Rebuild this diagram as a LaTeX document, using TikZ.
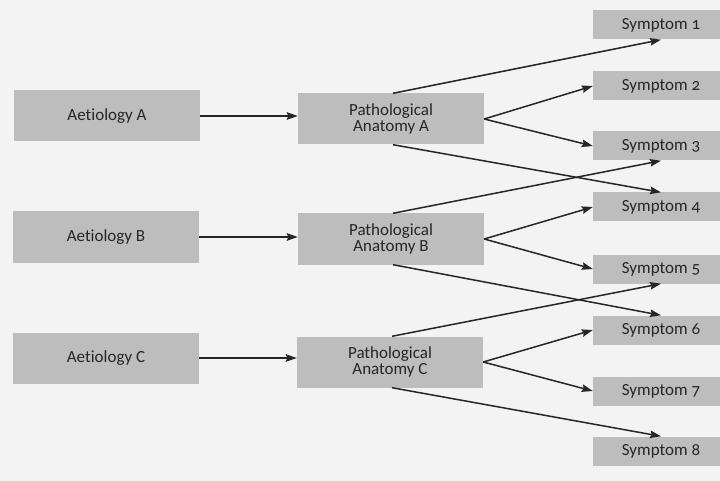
\documentclass[tikz,border=0pt]{standalone}
\usepackage{fontspec}
\setmainfont{Carlito}[Numbers=OldStyle,Ligatures={NoCommon,NoContextual}]
\usetikzlibrary{arrows.meta}
\definecolor{boxgray}{HTML}{BDBDBD}
\definecolor{inkgray}{HTML}{262626}
\definecolor{paper}{HTML}{F3F3F3}
\begin{document}
\begin{tikzpicture}[x=1pt,y=-1pt,
  bigbox/.style={fill=boxgray, draw=none, minimum width=186pt, minimum height=51pt, inner sep=0pt, align=center, text=inkgray, font=\fontsize{17}{15.5}\selectfont},
  symbox/.style={fill=boxgray, draw=none, minimum width=136pt, minimum height=29pt, inner sep=0pt, text=inkgray, font=\fontsize{17}{15.5}\selectfont},
  arr/.style={draw=inkgray, line width=1.5pt, -{Stealth[length=11pt,width=7.5pt,inset=1.5pt]}}]
\fill[paper] (0,0) rectangle (720,481);
\useasboundingbox (0,0) rectangle (720,481);
% aetiologies
\node[bigbox] (aA) at (107,116) {Aetiology A};
\node[bigbox] (aB) at (106,237) {Aetiology B};
\node[bigbox] (aC) at (106,358) {Aetiology C};
% pathological anatomies
\node[bigbox] (pA) at (391,119) {Pathological\\Anatomy A};
\node[bigbox] (pB) at (391,239) {Pathological\\Anatomy B};
\node[bigbox] (pC) at (390,362) {Pathological\\Anatomy C};
% symptoms
\node[symbox] (s1) at (661,25) {Symptom 1};
\node[symbox] (s2) at (661,86) {Symptom 2};
\node[symbox] (s3) at (661,146) {Symptom 3};
\node[symbox] (s4) at (661,207) {Symptom 4};
\node[symbox] (s5) at (661,269) {Symptom 5};
\node[symbox] (s6) at (661,330) {Symptom 6};
\node[symbox] (s7) at (661,391) {Symptom 7};
\node[symbox] (s8) at (661,451) {Symptom 8};
% aetiology -> anatomy
\draw[arr] (aA.east) -- (aA.east -| pA.west);
\draw[arr] (aB.east) -- (aB.east -| pB.west);
\draw[arr] (aC.east) -- (aC.east -| pC.west);
% anatomy A
\draw[arr] ([xshift=2pt]pA.north) -- (s1.south);
\draw[arr] (pA.east) -- (s2.west);
\draw[arr] (pA.east) -- (s3.west);
\draw[arr] ([xshift=2pt]pA.south) -- (s4.north);
% anatomy B
\draw[arr] ([xshift=2pt]pB.north) -- (s3.south);
\draw[arr] (pB.east) -- (s4.west);
\draw[arr] (pB.east) -- (s5.west);
\draw[arr] ([xshift=2pt]pB.south) -- (s6.north);
% anatomy C
\draw[arr] ([xshift=2pt]pC.north) -- (s5.south);
\draw[arr] (pC.east) -- (s6.west);
\draw[arr] (pC.east) -- (s7.west);
\draw[arr] ([xshift=2pt]pC.south) -- (s8.north);
\end{tikzpicture}
\end{document}
